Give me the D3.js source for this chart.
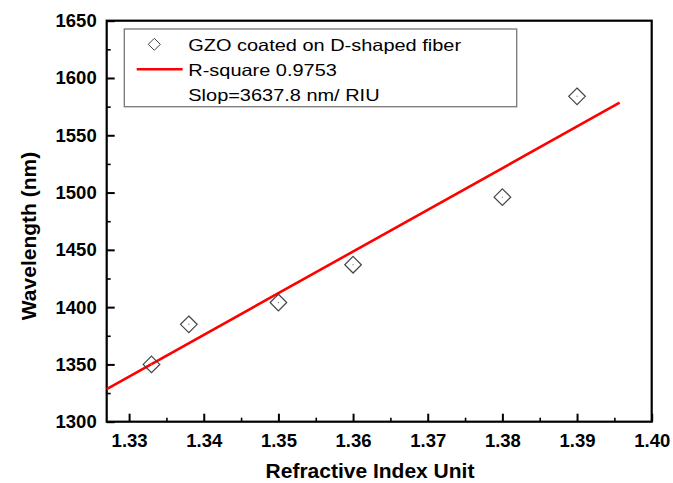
<!DOCTYPE html>
<html>
<head>
<meta charset="utf-8">
<script src="https://cdn.jsdelivr.net/npm/d3@7"></script>
<style>
  body { margin: 0; background: #fff; }
  svg { font-family: Arial, "Liberation Sans", sans-serif; }
  .axis path, .axis line { stroke: #000; }
  .axis text { font-weight: bold; font-size: 18.5px; fill: #000; }
</style>
</head>
<body>
<svg id="chart" width="673" height="483"></svg>
<script>
// measured points
const riu = [1.333, 1.338, 1.35, 1.36, 1.38, 1.39];
const wavelength = [1350, 1385, 1404, 1437, 1496, 1584];

// linear fit, endpoints as drawn
const fitX = [1.327, 1.3957];
const fitY = [1328.5, 1578.4];

const xTicks = [1.33, 1.34, 1.35, 1.36, 1.37, 1.38, 1.39, 1.40];
const yTicks = [1300, 1350, 1400, 1450, 1500, 1550, 1600, 1650];

const legendLabels = ['GZO coated on D-shaped fiber', 'R-square 0.9753', 'Slop=3637.8 nm/ RIU'];

const margin = {left: 106.7, top: 20.7, right: 651.7, bottom: 421.7};

const svg = d3.select('#chart');

const x = d3.scaleLinear().domain([1.327, 1.40]).range([margin.left, margin.right]);
const y = d3.scaleLinear().domain([1300, 1650]).range([margin.bottom, margin.top]);

// minor ticks
svg.append('g')
    .attr('class', 'axis')
    .attr('transform', `translate(0,${margin.bottom})`)
    .call(d3.axisBottom(x).tickValues(d3.range(1.335, 1.40, 0.01)).tickSize(-4).tickFormat(''))
    .call(g => g.select('.domain').remove())
    .call(g => g.selectAll('line').attr('stroke-width', 1.6));
svg.append('g')
    .attr('class', 'axis')
    .attr('transform', `translate(${margin.left},0)`)
    .call(d3.axisLeft(y).tickValues(d3.range(1325, 1650, 50)).tickSize(-4).tickFormat(''))
    .call(g => g.select('.domain').remove())
    .call(g => g.selectAll('line').attr('stroke-width', 1.6));

// major ticks
svg.append('g')
    .attr('class', 'axis')
    .attr('transform', `translate(0,${margin.bottom})`)
    .call(d3.axisBottom(x).tickValues(xTicks).tickSizeInner(-8).tickSizeOuter(0)
      .tickPadding(12).tickFormat(d3.format('.2f')))
    .call(g => g.select('.domain').remove())
    .call(g => g.selectAll('line').attr('stroke-width', 2));
svg.append('g')
    .attr('class', 'axis')
    .attr('transform', `translate(${margin.left},0)`)
    .call(d3.axisLeft(y).tickValues(yTicks).tickSizeInner(-8).tickSizeOuter(0)
      .tickPadding(10).tickFormat(d3.format('d')))
    .call(g => g.select('.domain').remove())
    .call(g => g.selectAll('line').attr('stroke-width', 2));

// frame
svg.append('rect')
    .attr('x', margin.left)
    .attr('y', margin.top)
    .attr('width', margin.right - margin.left)
    .attr('height', margin.bottom - margin.top)
    .attr('fill', 'none')
    .attr('stroke', '#000')
    .attr('stroke-width', 2.2);

// fit line
svg.append('line')
    .attr('x1', x(fitX[0]))
    .attr('y1', y(fitY[0]))
    .attr('x2', x(fitX[1]))
    .attr('y2', y(fitY[1]))
    .attr('stroke', '#ff0000')
    .attr('stroke-width', 2.6);

// data points
const diamond = r => `M0,${-r}L${r},0L0,${r}L${-r},0Z`;
const pts = svg.append('g').selectAll('g')
  .data(riu.map((d, i) => ({x: d, y: wavelength[i]})))
  .enter()
  .append('g')
    .attr('transform', d => `translate(${x(d.x)},${y(d.y)})`);
pts.append('path')
    .attr('d', diamond(8.3))
    .attr('fill', 'none')
    .attr('stroke', '#444')
    .attr('stroke-width', 1.2);
pts.append('circle')
    .attr('r', 0.7)
    .attr('fill', '#888');

// legend
const legend = svg.append('g');
legend.append('rect')
    .attr('x', 124.3)
    .attr('y', 29)
    .attr('width', 392.4)
    .attr('height', 77.7)
    .attr('fill', '#fff')
    .attr('stroke', '#777')
    .attr('stroke-width', 1.3);
legend.append('path')
    .attr('d', diamond(6))
    .attr('transform', 'translate(154.3,44.3)')
    .attr('fill', 'none')
    .attr('stroke', '#444')
    .attr('stroke-width', 1);
legend.append('line')
    .attr('x1', 136.7)
    .attr('x2', 182.7)
    .attr('y1', 69.3)
    .attr('y2', 69.3)
    .attr('stroke', '#ff0000')
    .attr('stroke-width', 2.6);
// the exported text is wider than its height suggests
legend.append('g')
    .attr('transform', 'translate(188.3,0) scale(1.21,1)')
  .selectAll('text')
  .data(legendLabels)
  .enter()
  .append('text')
    .attr('x', 0)
    .attr('y', (d, i) => 50.7 + i * 25)
    .attr('font-size', 16.5)
    .attr('fill', '#000')
    .text(d => d);

// axis titles
svg.append('text')
    .attr('x', 370)
    .attr('y', 478)
    .attr('text-anchor', 'middle')
    .attr('font-weight', 'bold')
    .attr('font-size', 21)
    .text('Refractive Index Unit');
svg.append('text')
    .attr('transform', 'translate(36,236) rotate(-90)')
    .attr('text-anchor', 'middle')
    .attr('font-weight', 'bold')
    .attr('font-size', 21)
    .text('Wavelength (nm)');
</script>
</body>
</html>
